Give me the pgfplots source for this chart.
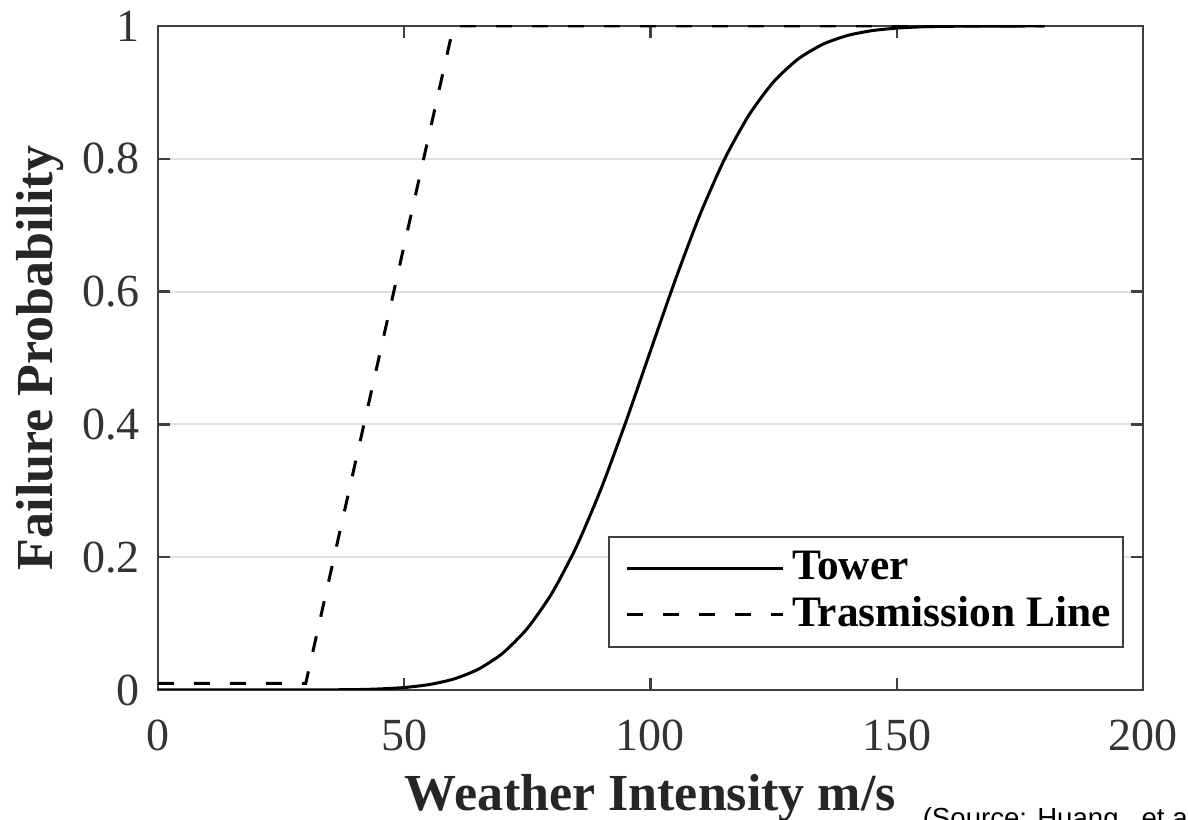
\documentclass[border=0pt]{standalone}
\usepackage{fontspec}
\setmainfont{Liberation Serif}
\newfontfamily\srcfont{Liberation Sans}
\usepackage{pgfplots}
\pgfplotsset{compat=1.18}

\begin{document}
\begin{tikzpicture}
\begin{axis}[
    name=ax,
    scale only axis,
    width=246.25pt, height=166pt,
    xmin=0, xmax=200,
    ymin=0, ymax=1,
    xtick={0,50,100,150,200},
    ytick={0,0.2,0.4,0.6,0.8,1},
    tick align=inside,
    xtick pos=both, ytick pos=both,
    major tick length=3pt,
    ymajorgrids,
    grid style={black!12, line width=0.5pt},
    axis line style={black!75, line width=0.7pt},
    tick style={black!75, line width=0.6pt},
    /pgf/number format/assume math mode=true,
    ticklabel style={font=\fontsize{11.5}{13}\selectfont, text=black!80},
    xticklabel style={yshift=-4pt},
    yticklabel style={xshift=-1pt},
    every axis x label/.style={at={(axis description cs:0.5,0)}, anchor=center, yshift=-27pt,
        font=\fontsize{13}{15}\selectfont\bfseries, text=black!85},
    every axis y label/.style={at={(axis description cs:0,0.5)}, anchor=center, rotate=90, yshift=29.5pt,
        font=\fontsize{13}{15}\selectfont\bfseries, text=black!85},
    xlabel={Weather Intensity m/s},
    ylabel={Failure Probability},
    legend style={at={(0.9807,0.0633)}, anchor=south east,
        draw=black!75, line width=0.6pt,
        font=\fontsize{10.85}{12}\selectfont\bfseries,
        inner xsep=1pt, inner ysep=2pt,
        nodes={inner ysep=1.45pt}},
    legend cell align=left,
    legend image code/.code={\path (-3pt,0pt); \draw[#1] (0pt,0pt) -- (39pt,0pt);},
]

% Tower
\addplot[black, line width=0.75pt, smooth, tension=0.4] coordinates {
    (0,0) (30,0.0001) (40,0.0006) (45,0.0016) (50,0.0037) (55,0.0081) (60,0.0164)
    (65,0.0311) (70,0.0554) (75,0.0928) (80,0.1459) (85,0.2165) (90,0.3037)
    (95,0.4039) (100,0.5108) (105,0.6168) (110,0.715) (115,0.799)
    (120,0.866) (125,0.916) (130,0.9504) (135,0.9725) (140,0.9857)
    (145,0.993) (150,0.9968) (155,0.9987) (160,0.9995) (170,0.9999) (180,1)
};

% Trasmission Line
\addplot[black, line width=0.75pt, dash pattern=on 4pt off 5pt] coordinates {
    (0,0.01) (30,0.01) (60,1) (180,1)
};

\legend{Tower, Trasmission Line}
\end{axis}

\node[anchor=base west, inner sep=0, font=\srcfont\fontsize{6.9}{8}\selectfont]
    at ([xshift=191pt, yshift=-34.5pt]ax.south west) {(Source: Huang,\ \ et al};

\pgfresetboundingbox
\path[use as bounding box] ([xshift=-39.5pt,yshift=-32.5pt]ax.south west)
    rectangle ([xshift=11.25pt,yshift=6.5pt]ax.north east);
\end{tikzpicture}
\end{document}
